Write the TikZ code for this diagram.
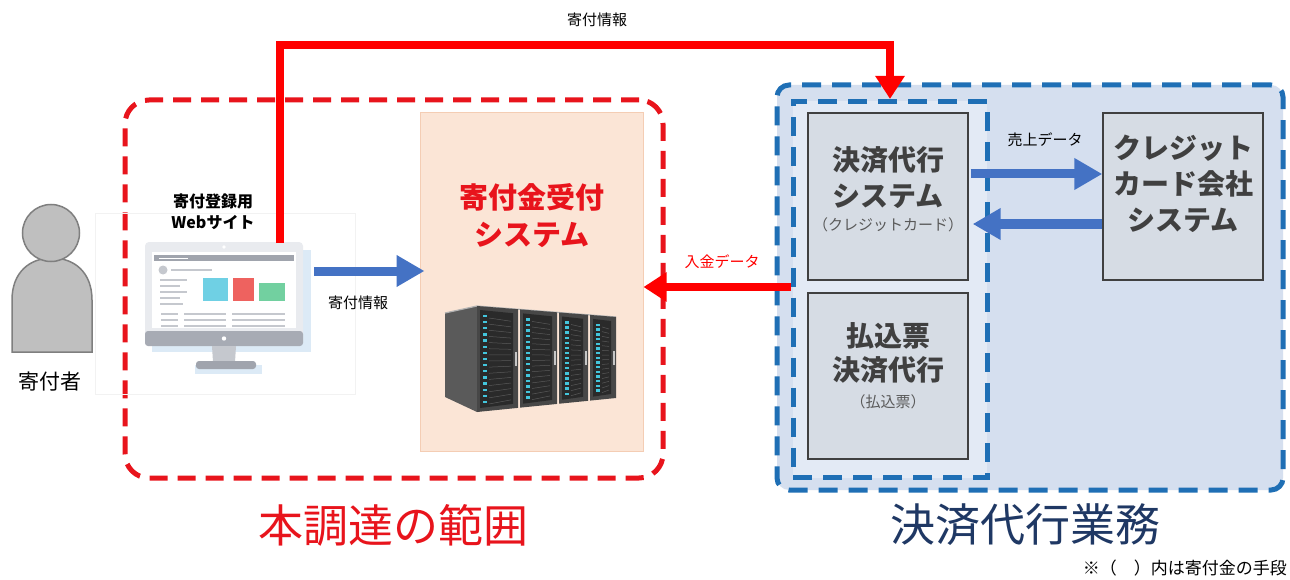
\documentclass[tikz,border=0pt]{standalone}
\usepackage{fontspec}
\setmainfont{Noto Sans CJK JP}
\usetikzlibrary{arrows.meta,calc}

\definecolor{scopered}{HTML}{E8141C}
\definecolor{arrowred}{HTML}{FF0000}
\definecolor{flowblue}{HTML}{4472C4}
\definecolor{dashblue}{HTML}{1F6FB5}
\definecolor{outerfill}{HTML}{D5DFEF}
\definecolor{innerfill}{HTML}{E3EAF5}
\definecolor{boxfill}{HTML}{D6DCE4}
\definecolor{boxtext}{HTML}{404040}
\definecolor{subtext}{HTML}{595959}
\definecolor{peachfill}{HTML}{FBE5D6}
\definecolor{peachline}{HTML}{F4CDB4}
\definecolor{navy}{HTML}{1F3864}
\definecolor{personfill}{HTML}{BFBFBF}
\definecolor{personline}{HTML}{7F7F7F}
\definecolor{bezel}{HTML}{E9EBEF}
\definecolor{chin}{HTML}{A7ABB4}
\definecolor{monshadow}{HTML}{DCEAF6}
\definecolor{uigray}{HTML}{C5C8CE}
\definecolor{uidark}{HTML}{A0A4AD}
\definecolor{tilecyan}{HTML}{6FD0E4}
\definecolor{tilered}{HTML}{EE625F}
\definecolor{tilegreen}{HTML}{72D0A0}
\definecolor{rackside}{HTML}{5A5A5A}
\definecolor{rackfront}{HTML}{474747}
\definecolor{rackpanel}{HTML}{2A2A2A}
\definecolor{rackled}{HTML}{43C6DD}

\newcommand\fsz[2]{\fontsize{#1}{#2}\selectfont}

\begin{document}
\begin{tikzpicture}[x=1pt,y=-1pt,
  rangebox/.style={draw=scopered,line width=5pt,dash pattern=on 18pt off 10pt,
    rounded corners=24pt,inner sep=0pt},
  outerbox/.style={draw=dashblue,fill=outerfill,line width=5pt,
    dash pattern=on 19pt off 11pt,rounded corners=12pt,inner sep=0pt},
  innerbox/.style={draw=dashblue,fill=innerfill,line width=5pt,
    dash pattern=on 19pt off 11pt,inner sep=0pt},
  sysbox/.style={draw=boxtext,fill=boxfill,line width=1.4pt,inner sep=0pt,
    minimum width=160pt,minimum height=167pt},
  systitle/.style={text=boxtext,font=\bfseries\fsz{28}{36},align=center,inner sep=0pt},
  syssub/.style={text=subtext,font=\fsz{15}{18},inner sep=0pt},
  flowlabel/.style={text=black,font=\fsz{15}{18},inner sep=0pt},
  bluearrow/.style={draw=flowblue,line width=9pt,
    -{Triangle[length=28pt,width=30pt]}},
  redarrow/.style={draw=arrowred,line width=8pt,
    -{Triangle[length=23pt,width=28pt]}},
  biglabel/.style={font=\fsz{45}{50},inner sep=0pt}]

\useasboundingbox (0,0) rectangle (1290,580);
\fill[white] (0,0) rectangle (1290,580);

% ---------- procurement scope ----------
\node[rangebox,minimum width=538pt,minimum height=378pt] (scope) at (394,289) {};
\node[draw=peachline,fill=peachfill,line width=1pt,minimum width=223pt,
  minimum height=338pt,inner sep=0pt] (recv) at (531.5,282) {};
\node[text=scopered,font=\bfseries\fsz{29}{37},align=center,inner sep=0pt]
  (recvt) at (532,216) {寄付金受付\\システム};

% server racks
\fill[rackside] (445,313) -- (477,306) -- (477,412) -- (445,397) -- cycle;
\draw[gray!60,line width=1.2pt] (445,313) -- (477,306) -- (616,317);
\foreach \a/\b in {477/518,520/557,559/588,590/616}{
  \pgfmathsetmacro\ta{306+0.0791*(\a-477)}
  \pgfmathsetmacro\tb{306+0.0791*(\b-477)}
  \pgfmathsetmacro\ba{412-0.1007*(\a-477)}
  \pgfmathsetmacro\bb{412-0.1007*(\b-477)}
  \fill[rackfront] (\a,\ta) -- (\b,\tb) -- (\b,\bb) -- (\a,\ba) -- cycle;
  \fill[rackpanel] (\a+3,\ta+4) -- (\b-5,\tb+4) -- (\b-5,\bb-4) -- (\a+3,\ba-4) -- cycle;
  \foreach \i in {0,...,14}{
    \pgfmathsetmacro\yy{\ta+10+\i*(\ba-\ta-20)/14}
    \pgfmathsetmacro\yr{\tb+10+\i*(\bb-\tb-20)/14}
    \fill[rackled] (\a+6,\yy-1.2) rectangle (\a+10,\yy+1.2);
    \draw[gray!70!black,line width=0.5pt] (\a+12,\yy+2) -- (\b-7,\yr+2);
  }
  \pgfmathsetmacro\hm{(\tb+\bb)/2}
  \fill[gray!45] (\b-3.5,\hm-7) rectangle (\b-1.5,\hm+7);
}

% ---------- donor ----------
\path[fill=personfill,draw=personline,line width=1.5pt]
  (12,352) -- (12,300) .. controls (12,272) and (30,258) .. (52,258)
  .. controls (74,258) and (92,272) .. (92,300) -- (92,352) -- cycle;
\node[circle,fill=personfill,draw=personline,line width=1.5pt,
  minimum size=57pt,inner sep=0pt] (head) at (51,233) {};
\node[font=\fsz{21}{24},inner sep=0pt] (donor) at (50,382) {寄付者};

% ---------- registration site ----------
\node[draw=gray!10,line width=1pt,minimum width=260pt,minimum height=181pt,
  inner sep=0pt] (site) at (225,304) {};
\node[font=\bfseries\fsz{16}{21},align=center,inner sep=0pt]
  (sitet) at (213,212) {寄付登録用\\Webサイト};

% monitor
\fill[monshadow] (152,250) rectangle (311,352);
\fill[monshadow] (195,365) rectangle (262,374);
\node[fill=bezel,rounded corners=4pt,minimum width=158pt,minimum height=103pt,
  inner sep=0pt] (mon) at (224,293.5) {};
\fill[chin,rounded corners=3pt] (145,331) rectangle (303,346);
\fill[white] (224,338.5) circle (2.2);
\fill[white] (224,247) circle (1.8);
\fill[white] (152,252) rectangle (296,328);
\fill[uidark] (154,255) rectangle (294,261);
\draw[white,line width=1pt] (159,258) -- (188,258);
\fill[uigray] (163,270) circle (4.5);
\draw[uigray,line width=2pt] (171,270) -- (212,270);
\foreach \y/\l in {280/187,286/180,292/187,298/180,304/183}
  \draw[uigray,line width=2pt] (160,\y) -- (\l,\y);
\fill[tilecyan] (203,278) rectangle (228,301);
\fill[tilered] (233,278) rectangle (254,301);
\fill[tilegreen] (259,283) rectangle (285,301);
\foreach \y in {314,320,326}{
  \draw[uigray,line width=1.8pt] (161,\y) -- (178,\y);
  \draw[uigray,line width=1.8pt] (184,\y) -- (226,\y);
  \draw[uigray,line width=1.8pt] (232,\y) -- (285,\y);
}
\fill[uigray] (212,346) -- (236,346) -- (235,362) -- (213,362) -- cycle;
\fill[uidark,rounded corners=3pt] (196,361) rectangle (256,369);

% ---------- payment agency ----------
\node[outerbox,minimum width=506pt,minimum height=405pt] (biz) at (1030,287.5) {};
\node[innerbox,minimum width=194pt,minimum height=376pt] (agency) at (890,289.5) {};

\node[sysbox] (pay) at (888,196.5) {};
\node[systitle] (payt) at (888,178) {決済代行\\システム};
\node[syssub] (pays) at (888,225) {（クレジットカード）};

\node[sysbox,minimum height=166pt] (slip) at (888,376) {};
\node[systitle,font=\bfseries\fsz{28}{34}] (slipt) at (888,353) {払込票\\決済代行};
\node[syssub] (slips) at (888,402) {（払込票）};

\node[sysbox] (card) at (1183,196.5) {};
\node[systitle] (cardt) at (1183,184) {クレジット\\カード会社\\システム};

% ---------- flows ----------
\coordinate (topline) at (0,45);
\coordinate (webtop) at (280,243);
\draw[redarrow] (webtop) -- (webtop |- topline) -| (agency.north);
\node[flowlabel] (l1) at (597,20) {寄付情報};

\coordinate (bin) at (0,271);
\draw[bluearrow] ([xshift=11pt]mon.east |- bin) -- ([xshift=5pt]recv.west |- bin);
\node[flowlabel] (l2) at (358,303) {寄付情報};

\coordinate (rin) at (0,287);
\draw[redarrow] (agency.west |- rin) -- (recv.east |- rin);
\node[flowlabel,text=arrowred] (l3) at (722,262) {入金データ};

\coordinate (b1) at (0,174);
\coordinate (b2) at (0,224);
\draw[bluearrow] ([xshift=2pt]pay.east |- b1) -- (card.west |- b1);
\node[flowlabel] (l4) at (1045,140) {売上データ};
\draw[bluearrow] (card.west |- b2) -- ([xshift=4pt]pay.east |- b2);

% ---------- captions ----------
\node[biglabel,text=scopered] (cap1) at (393,525) {本調達の範囲};
\node[biglabel,text=navy] (cap2) at (1025,525) {決済代行業務};
\node[font=\fsz{17}{20},inner sep=0pt,anchor=east] (note) at (1287,568)
  {※（　）内は寄付金の手段};

\end{tikzpicture}
\end{document}
